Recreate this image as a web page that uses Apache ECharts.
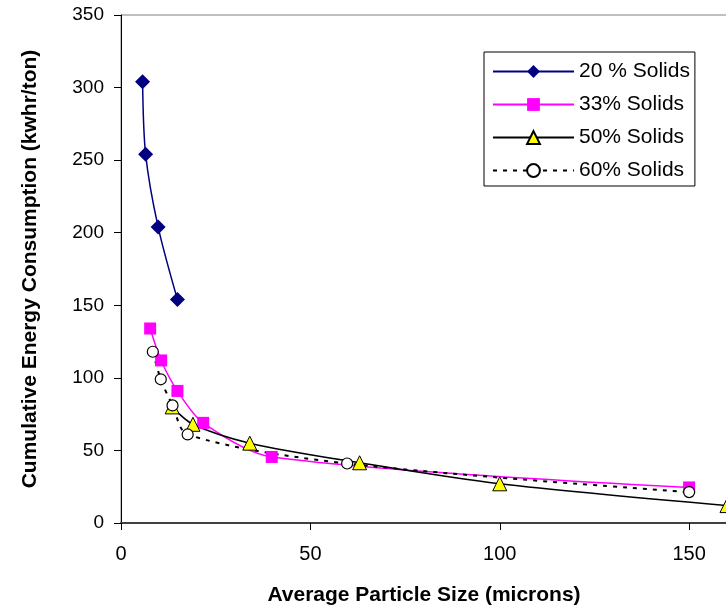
<!DOCTYPE html>
<html>
<head>
<meta charset="utf-8">
<script src="https://cdn.jsdelivr.net/npm/echarts@6/dist/echarts.min.js"></script>
<style>
  html, body { margin: 0; padding: 0; background: #fff; }
  #charts { width: 726px; height: 605px; }
</style>
</head>
<body>
<div id="charts"></div>
<script>
// data (x = microns, y = kwhr/ton)
var s20x = [5.7, 6.5, 9.8, 14.9];
var s20y = [304, 254, 204, 154];
var s33x = [7.7, 10.6, 14.9, 21.7, 39.8, 150];
var s33y = [134, 112, 91, 69, 45.5, 24.5];
var s50x = [13.5, 19, 34, 63, 100, 160];
var s50y = [80, 68, 55, 41.5, 27, 12];
var s60x = [8.4, 10.5, 13.6, 17.6, 59.7, 150];
var s60y = [118, 99, 81, 61, 41, 21.3];
var names = ['20 % Solids', '33% Solids', '50% Solids', '60% Solids'];

function pairs(xs, ys) {
    var out = [];
    for (var i = 0; i < xs.length; i++) {
        out.push([xs[i], ys[i]]);
    }
    return out;
}

var font = 'Liberation Sans, Arial, sans-serif';
var myChart = echarts.init(document.getElementById('charts'));
option = {
    animation: false,
    backgroundColor: '#fff',
    textStyle: { fontFamily: font },
    legend: {
        left: 484,
        top: 52,
        orient: 'vertical',
        itemWidth: 81,
        itemHeight: 16,
        itemGap: 12,
        padding: [9, 5, 5, 8],
        borderColor: '#000',
        borderWidth: 1,
        backgroundColor: '#fff',
        textStyle: { fontSize: 21, lineHeight: 21, color: '#000', fontFamily: font },
        data: names
    },
    grid: {
        left: 121,
        right: -1,
        top: 15,
        bottom: 82,
        outerBoundsMode: 'none',
        show: true,
        borderColor: '#808080',
        borderWidth: 1
    },
    xAxis: {
        type: 'value',
        min: 0,
        max: 160,
        interval: 50,
        name: 'Average Particle Size (microns)',
        nameLocation: 'middle',
        nameGap: 62,
        nameTextStyle: { fontSize: 21, fontWeight: 'bold', color: '#000', fontFamily: font },
        splitLine: { show: false },
        axisLine: { lineStyle: { color: '#404040', width: 2 } },
        axisTick: { length: 7, lineStyle: { color: '#000' } },
        axisLabel: { fontSize: 20, color: '#000', margin: 21, showMaxLabel: false,
            formatter: function (v) { return v % 50 === 0 ? v : ''; } }
    },
    yAxis: {
        type: 'value',
        min: 0,
        max: 350,
        interval: 50,
        name: 'Cumulative Energy Consumption (kwhr/ton)',
        nameLocation: 'middle',
        nameGap: 80,
        nameTextStyle: { fontSize: 21, fontWeight: 'bold', color: '#000', fontFamily: font },
        splitLine: { show: false },
        axisLine: { lineStyle: { color: '#000', width: 1 } },
        axisTick: { length: 7, lineStyle: { color: '#000' } },
        axisLabel: { fontSize: 19, color: '#000', margin: 17 }
    },
    series: [{
        name: names[0],
        type: 'line',
        smooth: 0.3,
        data: pairs(s20x, s20y),
        symbol: 'diamond',
        symbolSize: 15,
        lineStyle: { color: '#000080', width: 1.5 },
        itemStyle: { color: '#000080' }
    }, {
        name: names[1],
        type: 'line',
        smooth: 0.3,
        data: pairs(s33x, s33y),
        symbol: 'rect',
        symbolSize: 12,
        lineStyle: { color: '#FF00FF', width: 1.5 },
        itemStyle: { color: '#FF00FF' }
    }, {
        name: names[2],
        type: 'line',
        smooth: 0.3,
        data: pairs(s50x, s50y),
        symbol: 'triangle',
        symbolSize: 14,
        lineStyle: { color: '#000', width: 1.5 },
        itemStyle: { color: '#FFFF00', borderColor: '#000', borderWidth: 1 }
    }, {
        name: names[3],
        type: 'line',
        smooth: 0.3,
        data: pairs(s60x, s60y),
        symbol: 'circle',
        symbolSize: 11,
        lineStyle: { color: '#000', width: 2, type: [4, 6] },
        itemStyle: { color: '#fff', borderColor: '#000', borderWidth: 1.2 }
    }]
};
myChart.setOption(option);
</script>
</body>
</html>
